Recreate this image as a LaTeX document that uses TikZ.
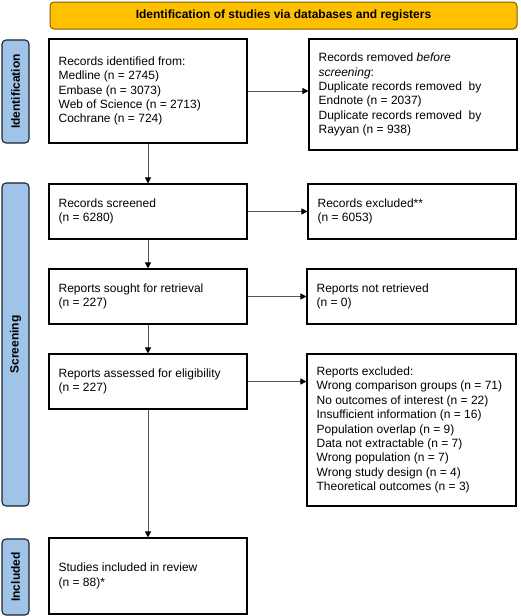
\documentclass[tikz,border=0pt]{standalone}
\usepackage{fontspec}
\setmainfont{Liberation Sans}
\usetikzlibrary{arrows.meta}
\definecolor{hdrfill}{HTML}{FFC000}
\definecolor{hdrdraw}{HTML}{7F6000}
\definecolor{barfill}{HTML}{A0C3E8}
\definecolor{bardraw}{HTML}{1A2230}
\definecolor{arrcol}{HTML}{555555}
\tikzset{
  box/.style={draw=black, line width=1.1pt, fill=white, inner sep=0pt},
  boxtext/.style={anchor=west, xshift=10pt, inner sep=0pt, align=left,
    font=\fontsize{12}{14.4}\selectfont},
  bar/.style={draw=bardraw, fill=barfill, line width=1.1pt, rounded corners=4pt,
    inner sep=0pt},
  barlabel/.style={rotate=90, font=\fontsize{12}{14}\selectfont\bfseries},
  hdr/.style={draw=hdrdraw, fill=hdrfill, line width=1pt, rounded corners=4pt,
    font=\fontsize{12}{14}\selectfont\bfseries, inner sep=0pt},
  arr/.style={draw=arrcol, line width=0.8pt, -{Triangle[length=6pt,width=6pt,color=black]}}
}
\newcommand{\mybox}[6]{% name, cx, cy, w, h, text
  \node[box, minimum width=#4pt, minimum height=#5pt] (#1) at (#2,#3) {};
  \node[boxtext] (#1-t) at (#1.west) {#6};}
\begin{document}
\begin{tikzpicture}[x=1pt,y=-1pt]
\useasboundingbox (0,0) rectangle (520,616);
% header
\node[hdr, minimum width=467pt, minimum height=27pt] (hdr) at (283.5,15.5) {Identification of studies via databases and registers};
% side bars
\node[bar, minimum width=27pt, minimum height=103pt] (barid) at (15.5,91.5) {};
\node[barlabel] (lid) at (barid.center) {Identification};
\node[bar, minimum width=27pt, minimum height=323pt] (barsc) at (15.5,344.5) {};
\node[barlabel] (lsc) at (barsc.center) {Screening};
\node[bar, minimum width=27pt, minimum height=76pt] (barin) at (15.5,577) {};
\node[barlabel] (lin) at (barin.center) {Included};
% boxes
\mybox{ident}{148}{91}{198}{104}{Records identified from:\\Medline (n = 2745)\\Embase (n = 3073)\\Web of Science (n = 2713)\\Cochrane (n = 724)}
\mybox{removed}{413}{94.5}{208}{111}{Records removed \textit{before}\\\textit{screening}:\\Duplicate records removed\ \ by\\Endnote (n = 2037)\\Duplicate records removed\ \ by\\Rayyan (n = 938)}
\mybox{screened}{148}{211.5}{198}{55}{Records screened\\(n = 6280)}
\mybox{excl}{412}{211.5}{208}{55}{Records excluded**\\(n = 6053)}
\mybox{sought}{148}{296.5}{198}{55}{Reports sought for retrieval\\(n = 227)}
\mybox{notret}{411.5}{296.5}{209}{55}{Reports not retrieved\\(n = 0)}
\mybox{assessed}{148}{381.5}{198}{55}{Reports assessed for eligibility\\(n = 227)}
\mybox{repexcl}{411.5}{430}{209}{152}{Reports excluded:\\Wrong comparison groups (n = 71)\\No outcomes of interest (n = 22)\\Insufficient information (n = 16)\\Population overlap (n = 9)\\Data not extractable (n = 7)\\Wrong population (n = 7)\\Wrong study design (n = 4)\\Theoretical outcomes (n = 3)}
\mybox{incl}{148}{576}{198}{76}{Studies included in review\\(n = 88)*}
% arrows
\draw[arr] (ident.east) -- (ident.east -| removed.west);
\draw[arr] (screened.east) -- (screened.east -| excl.west);
\draw[arr] (sought.east) -- (sought.east -| notret.west);
\draw[arr] (assessed.east) -- (assessed.east -| repexcl.west);
\draw[arr] (ident.south) -- (screened.north);
\draw[arr] (screened.south) -- (sought.north);
\draw[arr] (sought.south) -- (assessed.north);
\draw[arr] (assessed.south) -- (incl.north);
\end{tikzpicture}
\end{document}
